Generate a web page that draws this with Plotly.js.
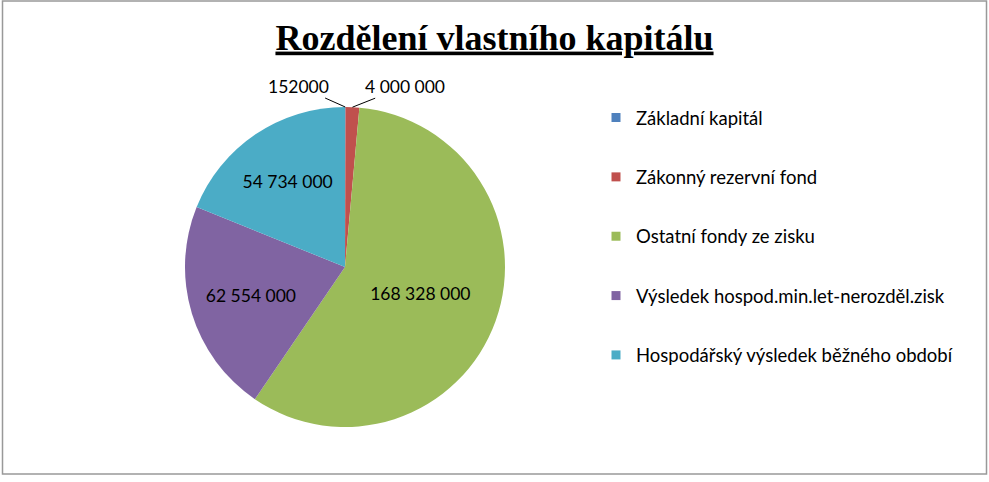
<!DOCTYPE html>
<html>
<head>
<meta charset="utf-8">
<script src="https://cdn.plot.ly/plotly-3.0.1.min.js"></script>
<style>html,body{margin:0;padding:0;background:#fff;}#chart{width:989px;height:482px;}</style>
</head>
<body>
<div id="chart"></div>
<script>
const categories = [
  "Základní kapitál",
  "Zákonný rezervní fond",
  "Ostatní fondy ze zisku",
  "Výsledek hospod.min.let-nerozděl.zisk",
  "Hospodářský výsledek běžného období"
];
const values = [152000, 4000000, 168328000, 62554000, 54734000];
const valueLabels = ["152000", "4 000 000", "168 328 000", "62 554 000", "54 734 000"];
const colors = ["#4F81BD", "#C0504D", "#9BBB59", "#8064A2", "#4BACC6"];
const titleText = "Rozdělení vlastního kapitálu";

const font = "Lato, 'Open Sans', sans-serif";
const W = 989, H = 482;
const dom = {x: [185/W, 505/W], y: [55/H, 375/H]};

// small slices get leader-line annotations; large ones inside labels
const insideMask = [false, false, true, true, true];

const pie = {
  type: "pie",
  labels: categories,
  values: values,
  text: valueLabels.map((t, i) => insideMask[i] ? t : ""),
  textinfo: "text",
  textposition: insideMask.map(m => m ? "inside" : "none"),
  insidetextorientation: "horizontal",
  textfont: {family: font, size: 17.5, color: "#000"},
  marker: {colors: colors, line: {width: 0}},
  sort: false,
  direction: "clockwise",
  rotation: 0,
  showlegend: false,
  hoverinfo: "label+value",
  domain: dom
};

const legendTraces = categories.map((c, i) => ({
  type: "scatter",
  mode: "markers",
  x: [null], y: [null],
  name: c,
  legendgroup: "g" + i,
  marker: {symbol: "square", size: 9, color: colors[i]},
  xaxis: "x", yaxis: "y",
  hoverinfo: "skip"
}));

// anchor points of leader lines on the rim, from the data
const total = values.reduce((a, b) => a + b, 0);
const cxPx = (dom.x[0] + dom.x[1]) / 2 * W;
const cyPx = (1 - (dom.y[0] + dom.y[1]) / 2) * H;
const rPx = Math.min((dom.x[1] - dom.x[0]) * W, (dom.y[1] - dom.y[0]) * H) / 2;
let cum = 0;
const mids = values.map(v => { const m = (cum + v / 2) / total; cum += v; return m * 2 * Math.PI; });
const offsets = [[-47, -21], [53, -21]];
const annotations = [0, 1].map(i => {
  const px = cxPx + rPx * Math.sin(mids[i]);
  const py = cyPx - rPx * Math.cos(mids[i]);
  return {
    xref: "paper", yref: "paper",
    x: px / W, y: 1 - py / H,
    text: valueLabels[i],
    showarrow: true, arrowhead: 0, arrowwidth: 1, arrowcolor: "#000",
    ax: offsets[i][0], ay: offsets[i][1], standoff: 0,
    font: {family: font, size: 17.5, color: "#000"}
  };
});

const layout = {
  width: W, height: H,
  margin: {l: 0, r: 0, t: 0, b: 0},
  paper_bgcolor: "#fff",
  plot_bgcolor: "rgba(0,0,0,0)",
  title: {
    text: "<b><u>" + titleText + "</u></b>",
    font: {family: "'Liberation Serif', 'Times New Roman', serif", size: 36, color: "#000"},
    x: 0.5, xanchor: "center", y: 1 - 37/H, yanchor: "middle"
  },
  xaxis: {visible: false, domain: [0.9, 0.95]},
  yaxis: {visible: false, domain: [0.9, 0.95]},
  showlegend: true,
  legend: {
    x: 596/W, xanchor: "left",
    y: 1 - 99/H, yanchor: "top",
    tracegroupgap: 32.3,
    font: {family: font, size: 18.5, color: "#000"},
    itemwidth: 30,
    bgcolor: "rgba(0,0,0,0)"
  },
  annotations: annotations,
  shapes: [{
    type: "rect", xref: "paper", yref: "paper",
    x0: 2.5/W, x1: 986.5/W, y0: 1 - 474/H, y1: 1 - 1/H,
    line: {color: "#999", width: 1.5}
  }]
};

Plotly.newPlot("chart", [pie].concat(legendTraces), layout, {displayModeBar: false, staticPlot: true});
</script>
</body>
</html>
